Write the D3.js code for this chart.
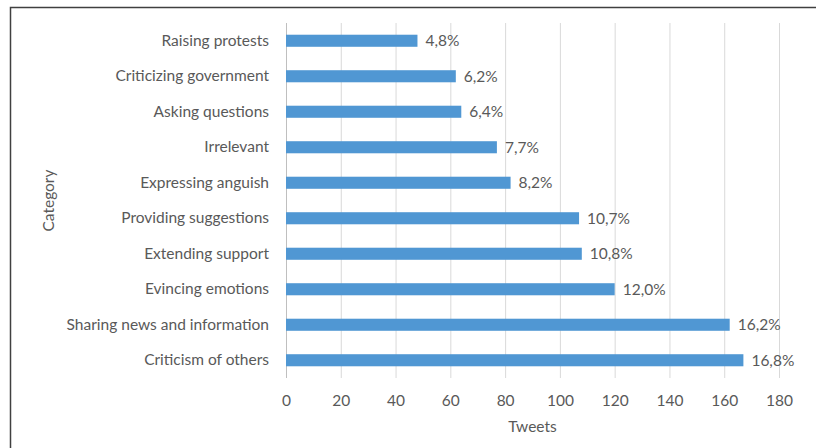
<!DOCTYPE html>
<html>
<head>
<meta charset="utf-8">
<script src="https://cdn.jsdelivr.net/npm/d3@7"></script>
<style>
    body { margin: 0; background: #fff; }
    svg text { font-family: Lato, "Open Sans", sans-serif; fill: #595959; }
</style>
</head>
<body>
<div id="chart"></div>
<script>
// Chart data
const categories = [
    "Raising protests",
    "Criticizing government",
    "Asking questions",
    "Irrelevant",
    "Expressing anguish",
    "Providing suggestions",
    "Extending support",
    "Evincing emotions",
    "Sharing news and information",
    "Criticism of others"
];
const tweets = [48, 62, 64, 77, 82, 107, 108, 120, 162, 167];
const shares = ["4,8%", "6,2%", "6,4%", "7,7%", "8,2%", "10,7%", "10,8%", "12,0%", "16,2%", "16,8%"];
const xTicks = [0, 20, 40, 60, 80, 100, 120, 140, 160, 180];

const width = 816;
const height = 448;
const margin = { top: 23, right: 37, bottom: 70, left: 286 };
const fontSize = "15.5px";

const svg = d3.select("#chart")
    .append("svg")
    .attr("width", width)
    .attr("height", height);

// outer frame (only top and left edges are visible in the picture)
svg.append("path")
    .attr("d", `M10.5,${height} V7.5 H${width}`)
    .attr("fill", "none")
    .attr("stroke", "#404040")
    .attr("stroke-width", 1.5);

const x = d3.scaleLinear()
    .domain([0, 180])
    .range([margin.left, width - margin.right]);

const y = d3.scaleBand()
    .domain(categories)
    .range([margin.top, height - margin.bottom])
    .paddingInner(0.66)
    .paddingOuter(0.33);

// vertical gridlines
svg.append("g")
    .selectAll("line")
    .data(xTicks)
    .join("line")
    .attr("x1", d => x(d) + 0.5)
    .attr("x2", d => x(d) + 0.5)
    .attr("y1", margin.top)
    .attr("y2", height - margin.bottom)
    .attr("stroke", d => d === 0 ? "#bfbfbf" : "#d9d9d9")
    .attr("stroke-width", 1);

// x axis labels
const xAxis = svg.append("g")
    .attr("transform", `translate(0,${height - margin.bottom})`)
    .call(d3.axisBottom(x).tickValues(xTicks).tickSize(0).tickPadding(17));
xAxis.select(".domain").remove();
xAxis.selectAll("text")
    .style("font-size", fontSize)
    .attr("fill", "#595959");

// y axis labels
const yAxis = svg.append("g")
    .attr("transform", `translate(${margin.left},0)`)
    .call(d3.axisLeft(y).tickSize(0).tickPadding(17));
yAxis.select(".domain").remove();
yAxis.selectAll("text")
    .style("font-size", fontSize)
    .attr("fill", "#595959");

// bars
svg.append("g")
    .selectAll("rect")
    .data(categories)
    .join("rect")
    .attr("x", x(0))
    .attr("y", d => y(d))
    .attr("width", (d, i) => x(tweets[i]) - x(0))
    .attr("height", y.bandwidth())
    .attr("fill", "#5097d3");

// percentage labels
svg.append("g")
    .selectAll("text")
    .data(categories)
    .join("text")
    .attr("x", (d, i) => x(tweets[i]) + 8)
    .attr("y", d => y(d) + y.bandwidth() / 2)
    .attr("dy", "0.35em")
    .style("font-size", fontSize)
    .text((d, i) => shares[i]);

// axis titles
svg.append("text")
    .attr("x", (x(0) + x(180)) / 2)
    .attr("y", 432)
    .attr("text-anchor", "middle")
    .style("font-size", fontSize)
    .text("Tweets");

svg.append("text")
    .attr("transform", `translate(54,${(margin.top + height - margin.bottom) / 2}) rotate(-90)`)
    .attr("text-anchor", "middle")
    .style("font-size", fontSize)
    .text("Category");
</script>
</body>
</html>
